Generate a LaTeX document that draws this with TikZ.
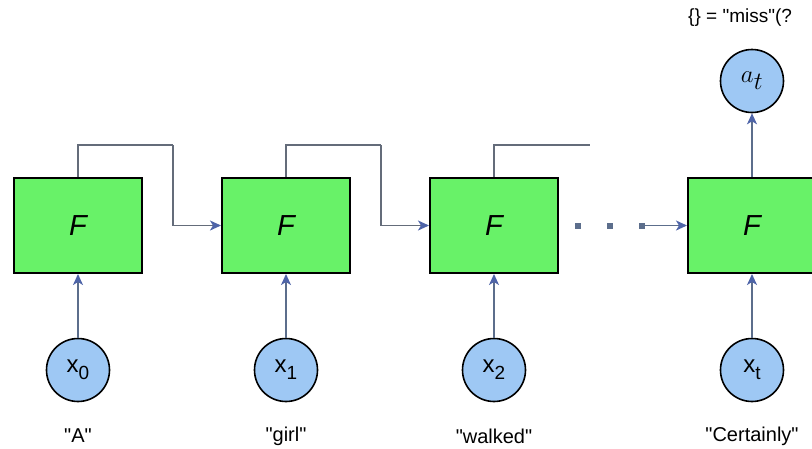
\documentclass[tikz,border=0pt]{standalone}
\usepackage{fontspec}
\setmainfont{Liberation Sans}
% a family without TeX ligatures, so that " stays a straight quote
\newfontfamily\plainsans{Liberation Sans}
\usetikzlibrary{arrows.meta}
\definecolor{cellgreen}{RGB}{104,242,104}
\definecolor{inblue}{RGB}{158,200,244}
\definecolor{wire}{RGB}{92,110,140}
\definecolor{linkgray}{RGB}{100,108,122}
\definecolor{tipblue}{RGB}{78,100,168}
\newcommand\tok[2]{#1\raisebox{-7pt}{\fontsize{19}{19}\selectfont #2}}
\begin{document}
\begin{tikzpicture}[x=1pt,y=-1pt,
  cell/.style={draw=black,line width=2pt,fill=cellgreen,minimum width=128pt,minimum height=95pt,
    inner sep=0pt,font=\fontsize{29}{32}\selectfont\itshape},
  token/.style={circle,draw=black,line width=1.6pt,fill=inblue,minimum size=63pt,inner sep=0pt,
    font=\fontsize{24}{26}\selectfont},
  word/.style={font=\plainsans\fontsize{20}{24}\selectfont,inner sep=0pt},
  tip/.style={-{Stealth[length=11pt,width=10pt,inset=3pt,color=tipblue]}},
  feed/.style={draw=linkgray,line width=1.6pt},
  up/.style={draw=wire,line width=1.6pt,tip}]
\useasboundingbox (0,0) rectangle (812,448);

% recurrent cells
\node[cell] (f0) at (78,225.5) {F};
\node[cell] (f1) at (286,225.5) {F};
\node[cell] (f2) at (494,225.5) {F};
\node[cell] (f3) at (752,225.5) {F};

% inputs and their words
\node[token] (x0) at (78,370) {\tok{x}{0}};
\node[token] (x1) at (286,370) {\tok{x}{1}};
\node[token] (x2) at (494,370) {\tok{x}{2}};
\node[token] (xt) at (752,370) {\tok{x}{t}};
\node[word] (w0) at (78,436) {"A"};
\node[word] (w1) at (286,436) {"girl"};
\node[word] (w2) at (494,436) {"walked"};
\node[word] (wt) at (752,436) {"Certainly"};

% output
\node[token,font=\fontsize{36}{38}\selectfont] (at) at (752,81) {$a_t$};
\node[word,anchor=west,font=\plainsans\fontsize{19}{22}\selectfont] (note) at (688,18) {\{\} = "miss"(?};

% input arrows
\foreach \i in {0,1,2} {\draw[up] (x\i.north) -- (f\i.south);}
\draw[up] (xt.north) -- (f3.south);
\draw[up] (f3.north) -- (at.south);

% hidden-state links between cells
\coordinate (k0) at (173,145);
\coordinate (k1) at (381,145);
\coordinate (k2) at (590,145);
\draw[feed] (f0.north) |- (k0);
\draw[feed,tip] (k0) |- (f1.west);
\draw[feed] (f1.north) |- (k1);
\draw[feed,tip] (k1) |- (f2.west);
\draw[feed] (f2.north) |- (k2);

% ellipsis into the last cell
\foreach \d in {578,610} {\fill[wire] (\d-3,222.5) rectangle (\d+3,228.5);}
\fill[wire] (639,222.5) rectangle (645,228.5);
\coordinate (dots) at (642,225.5);
\draw[up] (dots) -- (f3.west);
\end{tikzpicture}
\end{document}
